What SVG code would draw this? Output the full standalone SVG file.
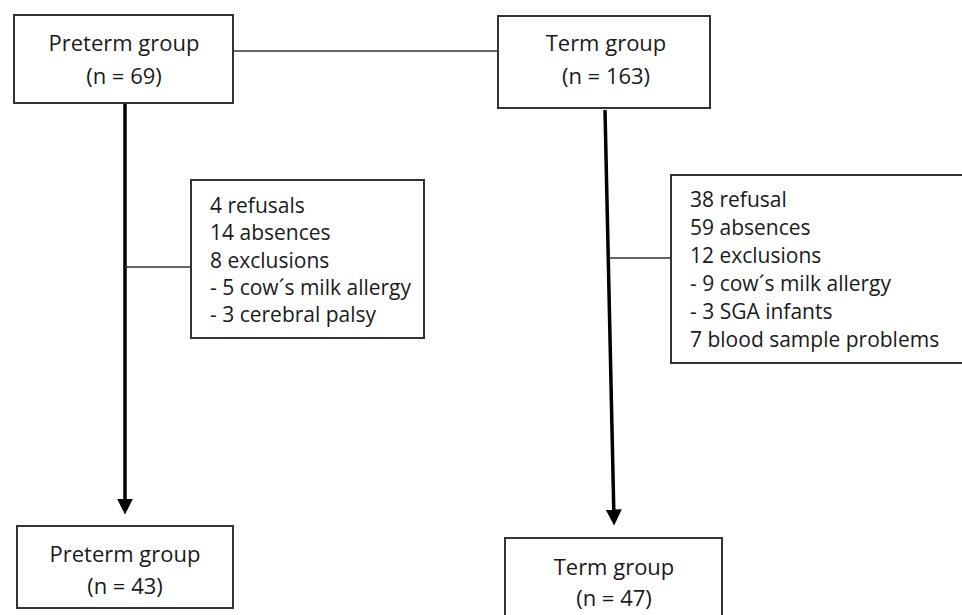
<svg xmlns="http://www.w3.org/2000/svg" width="962" height="615" viewBox="0 0 962 615">
<style>
.box{fill:#fff;stroke:#333;stroke-width:2}
.t{font-family:"Open Sans","Noto Sans",sans-serif;font-size:22px;fill:#1a1a1a;text-anchor:middle}
.e{font-family:"Open Sans","Noto Sans",sans-serif;font-size:21px;fill:#1a1a1a}
.thin{stroke:#333;stroke-width:1.5;fill:none}
.thick{stroke:#000;stroke-width:3.5;fill:none}
</style>
<defs>
<marker id="ah" markerWidth="5" markerHeight="5" refX="3" refY="2.3" orient="auto" markerUnits="strokeWidth">
<path d="M0,0 L4.6,2.3 L0,4.6 Z" fill="#000"/>
</marker>
</defs>
<rect width="962" height="615" fill="#fff"/>
<g id="connectors">
<line class="thin" x1="233" y1="51" x2="498" y2="51"/>
<line class="thick" x1="125" y1="104" x2="125" y2="509" marker-end="url(#ah)"/>
<line class="thick" x1="605" y1="110" x2="614" y2="520" marker-end="url(#ah)"/>
<line class="thin" x1="125" y1="267" x2="191" y2="267"/>
<line class="thin" x1="609" y1="258" x2="671" y2="258"/>
</g>
<g id="preterm-start">
<rect class="box" x="14" y="15" width="219" height="88"/>
<text class="t" x="124" y="51">Preterm group</text>
<text class="t" x="124" y="84">(n = 69)</text>
</g>
<g id="term-start">
<rect class="box" x="498" y="16" width="212" height="92"/>
<text class="t" x="606" y="51">Term group</text>
<text class="t" x="606" y="84">(n = 163)</text>
</g>
<g id="preterm-excl">
<rect class="box" x="191" y="180" width="233" height="158"/>
<text class="e" x="210" y="213">4 refusals</text>
<text class="e" x="210" y="240">14 absences</text>
<text class="e" x="210" y="268">8 exclusions</text>
<text class="e" x="210" y="295">- 5 cow´s milk allergy</text>
<text class="e" x="210" y="322">- 3 cerebral palsy</text>
</g>
<g id="term-excl">
<rect class="box" x="671" y="175" width="300" height="188"/>
<text class="e" x="690" y="207">38 refusal</text>
<text class="e" x="690" y="235">59 absences</text>
<text class="e" x="690" y="263">12 exclusions</text>
<text class="e" x="690" y="291">- 9 cow´s milk allergy</text>
<text class="e" x="690" y="319">- 3 SGA infants</text>
<text class="e" x="690" y="347">7 blood sample problems</text>
</g>
<g id="preterm-end">
<rect class="box" x="17" y="526" width="216" height="82"/>
<text class="t" x="125" y="562">Preterm group</text>
<text class="t" x="125" y="594">(n = 43)</text>
</g>
<g id="term-end">
<rect class="box" x="505" y="538" width="217" height="90"/>
<text class="t" x="614" y="575">Term group</text>
<text class="t" x="614" y="606">(n = 47)</text>
</g>
</svg>
